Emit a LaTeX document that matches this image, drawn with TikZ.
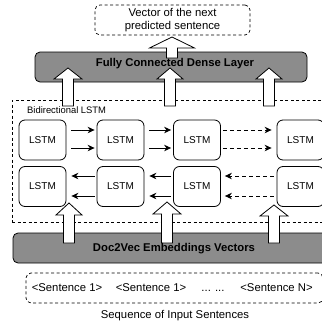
\documentclass[tikz,border=0pt]{standalone}
\usepackage{fontspec}
\setmainfont{Liberation Sans}
\usetikzlibrary{arrows.meta}
\definecolor{boxgray}{RGB}{140,140,140}
\newcommand{\blockup}[5]{\draw[barrow] (#1-5.5,#2) -- (#1-5.5,#3+#5) -- (#1-#4,#3+#5) -- (#1,#3) -- (#1+#4,#3+#5) -- (#1+5.5,#3+#5) -- (#1+5.5,#2) -- cycle;}
\begin{document}
\begin{tikzpicture}[x=1pt,y=-1pt,
  lstm/.style={draw, rounded corners=6pt, line width=0.8pt, minimum width=47pt, minimum height=40pt, inner sep=0pt, font=\fontsize{10}{12}\selectfont},
  dashbox/.style={draw, dash pattern=on 3pt off 2.5pt, line width=0.7pt, inner sep=0pt},
  graybox/.style={draw, fill=boxgray, rounded corners=5pt, line width=0.8pt, inner sep=0pt},
  maintext/.style={font=\fontsize{11.3}{13}\selectfont, inner sep=0pt},
  boldtext/.style={font=\fontsize{11.3}{13}\selectfont\bfseries, inner sep=0pt},
  barrow/.style={draw, fill=white, line width=0.8pt, line join=miter},
  harr/.style={line width=0.8pt, -{Stealth[length=7pt,width=6.5pt]}},
  darr/.style={harr, dash pattern=on 4pt off 3pt},
]
\useasboundingbox (0,0) rectangle (322,322);

% output box
\node[dashbox, rounded corners=5pt, minimum width=155pt, minimum height=30pt, align=center, maintext] (out) at (172.5,20) {Vector of the next\\predicted sentence};

% dense layer
\node[graybox, minimum width=272pt, minimum height=30pt] (dense) at (171,67) {};

% bidirectional LSTM container
\node[dashbox, minimum width=330pt, minimum height=122pt] (bilstm) at (177,161) {};
\node[anchor=west, font=\fontsize{9.4}{11}\selectfont, inner sep=0pt] (bilabel) at (27,110) {Bidirectional LSTM};

% LSTM cells
\node[lstm] (f1) at (42.5,140) {LSTM};
\node[lstm] (f2) at (120.5,140) {LSTM};
\node[lstm] (f3) at (197,140) {LSTM};
\node[lstm] (f4) at (300.5,140) {LSTM};
\node[lstm] (b1) at (42.5,186.5) {LSTM};
\node[lstm] (b2) at (120.5,186.5) {LSTM};
\node[lstm] (b3) at (197,186.5) {LSTM};
\node[lstm] (b4) at (300.5,186.5) {LSTM};

% forward arrows
\foreach \a/\b in {f1/f2, f2/f3}{
  \draw[harr, shorten <=5pt, shorten >=2pt] ([yshift=10pt]\a.east) -- ([yshift=10pt]\b.west);
  \draw[harr, shorten <=5pt, shorten >=2pt] ([yshift=-8pt]\a.east) -- ([yshift=-8pt]\b.west);
}
\draw[darr, shorten <=2pt, shorten >=5pt] ([yshift=10pt]f3.east) -- ([yshift=10pt]f4.west);
\draw[darr, shorten <=2pt, shorten >=5pt] ([yshift=-8pt]f3.east) -- ([yshift=-8pt]f4.west);

% backward arrows
\foreach \a/\b in {b2/b1, b3/b2}{
  \draw[harr, shorten <=2pt, shorten >=5pt] ([yshift=10.5pt]\a.west) -- ([yshift=10.5pt]\b.east);
  \draw[harr, shorten <=2pt, shorten >=5pt] ([yshift=-9.5pt]\a.west) -- ([yshift=-9.5pt]\b.east);
}
\draw[darr, shorten <=3pt, shorten >=4pt] ([yshift=10.5pt]b4.west) -- ([yshift=10.5pt]b3.east);
\draw[darr, shorten <=3pt, shorten >=4pt] ([yshift=-9.5pt]b4.west) -- ([yshift=-9.5pt]b3.east);

% Doc2Vec box
\node[graybox, minimum width=327pt, minimum height=30pt] (doc) at (176.5,248) {};

% input sentences
\node[dashbox, rounded corners=5pt, minimum width=297pt, minimum height=30pt] (inp) at (174.5,288) {};
\node[maintext, anchor=base] (s1) at (67,291) {<Sentence 1>};
\node[maintext, anchor=base] (s2) at (151,291) {<Sentence 1>};
\node[maintext, anchor=base] (s3) at (213,291) {... ...};
\node[maintext, anchor=base] (sn) at (276.5,291) {<Sentence N>};
\node[maintext] (seqlabel) at (175,316) {Sequence of Input Sentences};

% block arrows
\blockup{172}{58}{37}{22.5}{11}
\blockup{68}{106}{68}{14}{11}
\blockup{170}{106}{68}{13}{11}
\blockup{269}{106}{68}{13}{11}
\blockup{69}{243}{203}{13}{12}
\blockup{167}{243}{202}{14}{12}
\blockup{274}{243}{205}{14}{11}

% texts on top
\node[boldtext] (densetxt) at (175,64) {Fully Connected Dense Layer};
\node[boldtext] (doctxt) at (174,249) {Doc2Vec Embeddings Vectors};
\end{tikzpicture}
\end{document}
